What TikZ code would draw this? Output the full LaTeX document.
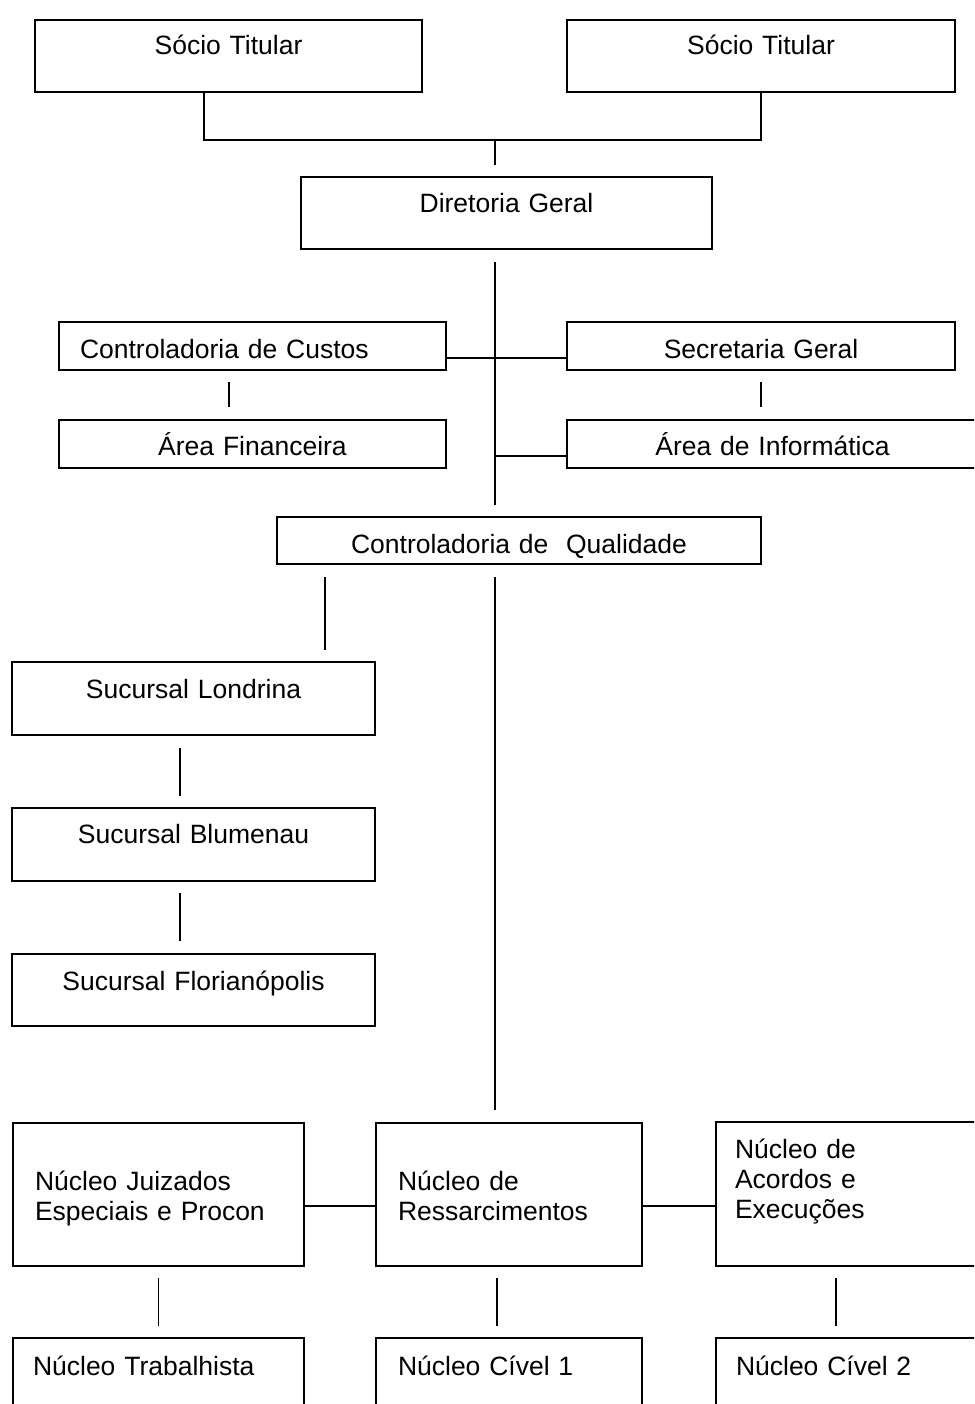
\documentclass[tikz,border=0pt]{standalone}
\usepackage{fontspec}
\setmainfont{Liberation Sans}
\begin{document}
\begin{tikzpicture}[x=1pt,y=-1pt,
  font=\fontsize{26.5}{30}\selectfont,
  box/.style={draw, line width=1.8pt, anchor=north west, inner sep=0pt, outer sep=0pt},
  mid/.style={align=center},
  lft/.style={align=left, inner xsep=#1},
  conn/.style={line width=1.5pt}]
\useasboundingbox (0,0) rectangle (974,1404);
\fill[white] (0,0) rectangle (974,1404);
\clip (0,0) rectangle (974,1404);

% partners and management
\node[box, mid, text width=387pt, text height=34.5pt, text depth=37.5pt] (st1) at (35,20) {Sócio Titular};
\node[box, mid, text width=388pt, text height=34.5pt, text depth=37.5pt] (st2) at (567,20) {Sócio Titular};
\node[box, mid, text width=411pt, text height=36pt, text depth=36pt] (dg) at (301,177) {Diretoria Geral};

% staff areas
\node[box, lft=21pt, text width=345pt, text height=36pt, text depth=12pt] (cc) at (59,322) {Controladoria de Custos};
\node[box, mid, text width=388pt, text height=36pt, text depth=12pt] (sg) at (567,322) {Secretaria Geral};
\node[box, mid, text width=387pt, text height=35pt, text depth=13pt] (af) at (59,420) {Área Financeira};
\node[box, mid, text width=411pt, text height=35pt, text depth=13pt] (ai) at (567,420) {Área de Informática};
\node[box, mid, text width=484pt, text height=36pt, text depth=11pt] (cq) at (277,517) {Controladoria de\ \ Qualidade};

% branches
\node[box, mid, text width=363pt, text height=36pt, text depth=37pt] (sl) at (12,662) {Sucursal Londrina};
\node[box, mid, text width=363pt, text height=35pt, text depth=38pt] (sb) at (12,808) {Sucursal Blumenau};
\node[box, mid, text width=363pt, text height=36pt, text depth=36pt] (sf) at (12,954) {Sucursal Florianópolis};

% nuclei
\node[box, lft=22pt, text width=247pt, text height=67pt, text depth=76pt] (nj) at (13,1123) {Núcleo Juizados\\Especiais e Procon};
\node[box, lft=22pt, text width=222pt, text height=67pt, text depth=76pt] (nr) at (376,1123) {Núcleo de\\Ressarcimentos};
\node[box, lft=19pt, text width=226pt, text height=36pt, text depth=108pt] (na) at (716,1122) {Núcleo de\\Acordos e\\Execuções};
\node[box, lft=20pt, text width=251pt, text height=37pt, text depth=45pt] (nt) at (13,1338) {Núcleo Trabalhista};
\node[box, lft=22pt, text width=222pt, text height=37pt, text depth=45pt] (nc1) at (376,1338) {Núcleo Cível 1};
\node[box, lft=20pt, text width=226pt, text height=37pt, text depth=45pt] (nc2) at (716,1338) {Núcleo Cível 2};

% reference points for the connectors
\coordinate (jn) at (495,140);
\coordinate (tl) at (204,140);
\coordinate (hc) at (495,358);
\coordinate (hi) at (495,456);
\coordinate (hb) at (495,1206);
\coordinate (xf) at (229,0);
\coordinate (xq) at (325,0);
\coordinate (xs) at (180,0);
\coordinate (xr) at (497,0);
\coordinate (xa) at (836,0);

% partners to management
\draw[conn] (st1.south -| tl) -- (tl) -- (jn -| st2.south) -- (st2.south);
\draw[conn, shorten >=12pt] (jn) -- (jn |- dg.north);

% main spine
\draw[conn, shorten <=13pt, shorten >=12pt] (jn |- dg.south) -- (jn |- cq.north);
\draw[conn] (hc -| cc.east) -- (hc -| sg.west);
\draw[conn] (hi) -- (hi -| ai.west);
\draw[conn, shorten <=12pt, shorten >=13pt] (cc.south -| xf) -- (af.north -| xf);
\draw[conn, shorten <=12pt, shorten >=13pt] (sg.south) -- (sg.south |- ai.north);

% quality control to branches and nuclei
\draw[conn, shorten <=13pt, shorten >=12pt] (cq.south -| xq) -- (sl.north -| xq);
\draw[conn, shorten <=13pt, shorten >=13pt] (jn |- cq.south) -- (jn |- nr.north);
\draw[conn, shorten <=13pt, shorten >=12pt] (sl.south -| xs) -- (sb.north -| xs);
\draw[conn, shorten <=12pt, shorten >=13pt] (sb.south -| xs) -- (sf.north -| xs);

% nuclei links
\draw[conn] (hb -| nj.east) -- (hb -| nr.west);
\draw[conn] (hb -| nr.east) -- (hb -| na.west);
\draw[conn, shorten <=12pt, shorten >=12pt] (nj.south) -- (nj.south |- nt.north);
\draw[conn, shorten <=12pt, shorten >=12pt] (nr.south -| xr) -- (nc1.north -| xr);
\draw[conn, shorten <=12pt, shorten >=12pt] (na.south -| xa) -- (nc2.north -| xa);
\end{tikzpicture}
\end{document}
